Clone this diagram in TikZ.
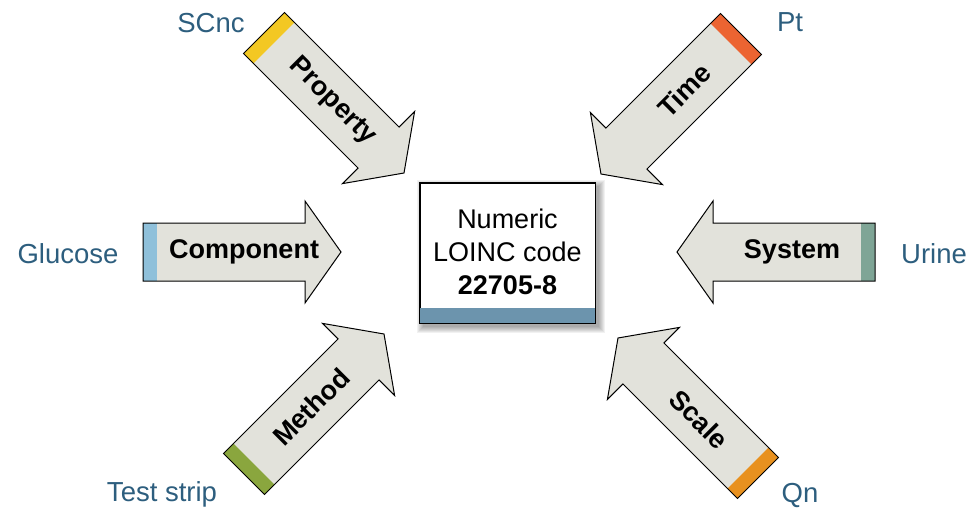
\documentclass[tikz,border=0pt]{standalone}
\usepackage{fontspec}
\setmainfont{Liberation Sans}
\usetikzlibrary{calc}
\definecolor{bodygrey}{HTML}{E2E2DB}
\definecolor{labelblue}{HTML}{2D5E7E}
\definecolor{cyellow}{HTML}{F3C823}
\definecolor{cred}{HTML}{EC6432}
\definecolor{clightblue}{HTML}{8FC0DA}
\definecolor{cteal}{HTML}{7FA596}
\definecolor{colive}{HTML}{8AA63E}
\definecolor{corange}{HTML}{E8911F}
\definecolor{boxblue}{HTML}{6C94AD}
\pgfdeclarelayer{bg}
\pgfsetlayers{bg,main}
\tikzset{
  outline/.style={draw=black, line width=1pt, line join=miter},
  outlabel/.style={text=labelblue, font=\fontsize{27.5}{32}\selectfont, inner sep=0pt},
  arrowlabel/.style={font=\fontsize{27}{30}\selectfont\bfseries, inner sep=0pt},
  boxtext/.style={font=\fontsize{27}{33}\selectfont, align=center, inner sep=0pt},
}
% #1 name, #2 tail centre, #3 direction, #4 stripe colour, #5 label, #6 label distance, #7 label angle
\newcommand\loincarrow[7]{%
  \begin{scope}[shift={#2}, rotate=#3]
    \fill[bodygrey] (0,-29) -- (162,-29) -- (162,-51) -- (198,0) -- (162,51) -- (162,29) -- (0,29) -- cycle;
    \fill[#4] (0,-29) rectangle (14,29);
    \draw[outline] (0,-29) -- (162,-29) -- (162,-51) -- (198,0) -- (162,51) -- (162,29) -- (0,29) -- cycle;
    \node[arrowlabel, rotate=#7] (#1) at (#6,0) {#5};
  \end{scope}}
\begin{document}
\begin{tikzpicture}[x=1pt, y=-1pt]
\useasboundingbox (0,0) rectangle (971,514);

% arrows
\loincarrow{property}{(264,33)}{-45}{cyellow}{Property}{97}{-45}
\loincarrow{time}{(741,34)}{-135}{cred}{Time}{80}{45}
\loincarrow{component}{(143,252)}{0}{clightblue}{Component}{101}{0}
\loincarrow{system}{(875,252)}{180}{cteal}{System}{83}{0}
\loincarrow{method}{(244,474)}{45}{colive}{Method}{95}{45}
\loincarrow{scale}{(758,478)}{135}{corange}{Scale}{83}{-45}

% outer values
\node[outlabel] (scnc) at (211,23) {SCnc};
\node[outlabel] (pt) at (790,22) {Pt};
\node[outlabel] (glucose) at (68,254) {Glucose};
\node[outlabel] (urine) at (934,254) {Urine};
\node[outlabel] (teststrip) at (162,494) {Test strip};
\node[outlabel] (qn) at (800,495) {Qn};

% centre box
\node[draw=black, line width=1pt, fill=white, minimum width=175pt, minimum height=140pt, inner sep=0pt] (box) at (507.5,253) {};
\begin{pgfonlayer}{bg}
  \foreach \d in {0,1,...,6} {
    \fill[black, opacity=0.055]
      ([xshift=3pt-\d pt, yshift=-3pt+\d pt]box.north west) rectangle
      ([xshift=3pt+\d pt, yshift=-3pt-\d pt]box.south east);
  }
\end{pgfonlayer}
\fill[boxblue] (box.south west) rectangle ([yshift=16pt]box.south east);
\draw[line width=1pt] (box.south west) rectangle (box.north east);
\node[boxtext] (code) at (507.5,252) {Numeric\\LOINC code\\\textbf{22705-8}};
\end{tikzpicture}
\end{document}
